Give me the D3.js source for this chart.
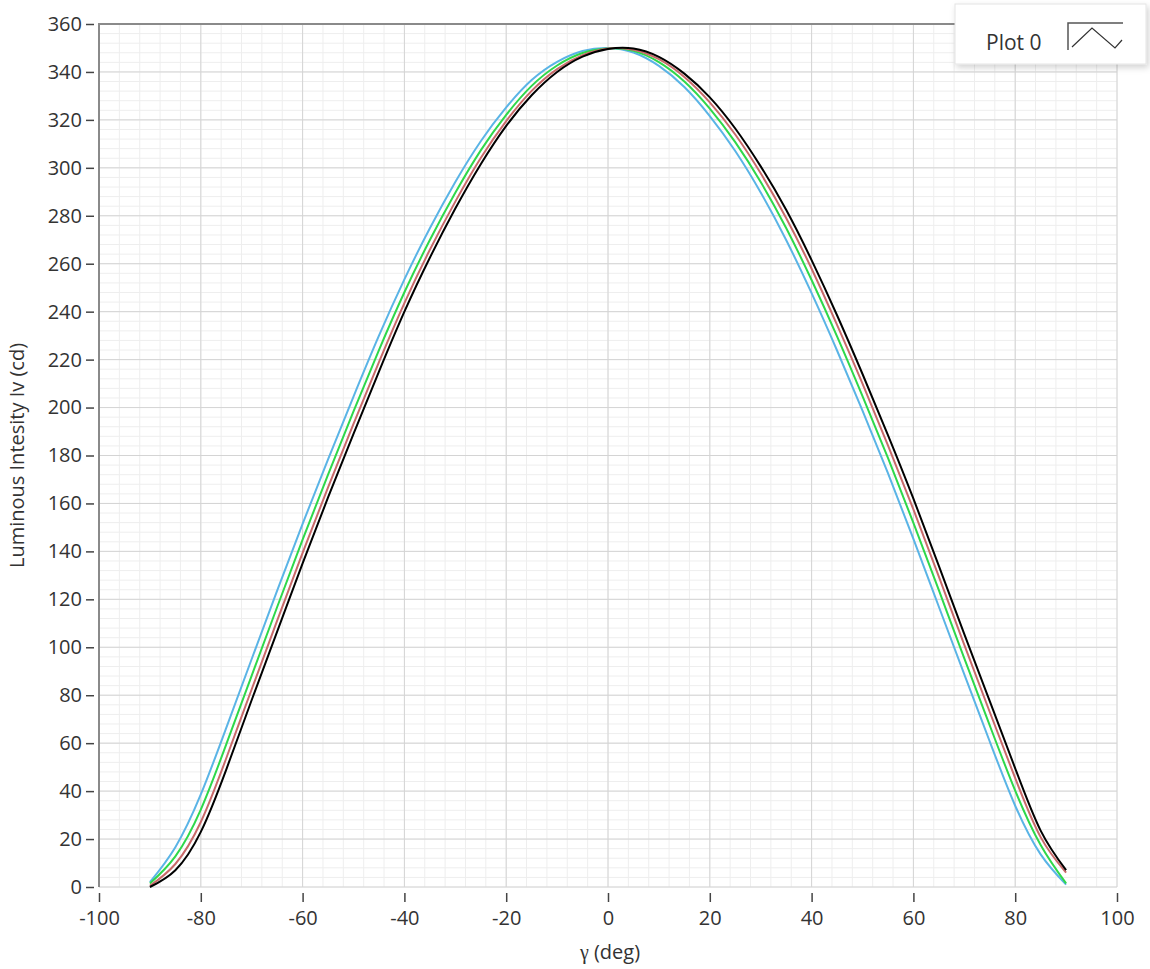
<!DOCTYPE html>
<html>
<head>
<meta charset="utf-8">
<script src="https://cdn.jsdelivr.net/npm/d3@7"></script>
<style>
  html, body { margin: 0; padding: 0; background: #fff; }
  svg text { font-family: "Segoe UI", "Open Sans", "Noto Sans", sans-serif; fill: #333; }
</style>
</head>
<body>
<div id="app"></div>
<script>
// angles in degrees
const gamma = [-90, -85, -80, -75, -70, -65, -60, -55, -50, -45, -40, -35, -30, -25, -20, -15, -10, -5, 0,
               5, 10, 15, 20, 25, 30, 35, 40, 45, 50, 55, 60, 65, 70, 75, 80, 85, 90];

// luminous intensity (cd) for each measured run
const blueRun  = [2, 16.6, 38.6, 66.4, 95.1, 123.6, 151.5, 178.4, 204.6, 230, 253.5, 274.8, 294.1, 311.1, 325.2, 336.6, 344.2, 348.7, 350,
                  348.1, 342.5, 333.7, 321.6, 307, 289.7, 269.9, 247.7, 223.8, 198.7, 172.6, 145.2, 116.9, 88.7, 60.7, 33.9, 13.6, 1];
const greenRun = [1.5, 12.8, 32.3, 59.5, 88.2, 116.8, 144.9, 172, 198.4, 224, 248.1, 269.9, 289.6, 307.3, 322.1, 334.2, 342.7, 347.9, 349.8,
                  348.8, 344.1, 336, 324.7, 310.7, 294.1, 274.9, 253.2, 229.7, 204.8, 179, 151.9, 123.8, 95.4, 67.4, 40.2, 17.5, 1.5];
const redRun   = [0.5, 9.6, 27.1, 53.7, 82.5, 111.1, 139.4, 166.7, 193.2, 219, 243.6, 265.8, 285.9, 304.1, 319.5, 332.1, 341.2, 347, 349.8,
                  349.3, 345.3, 337.9, 327.3, 313.9, 297.7, 279.1, 257.9, 234.5, 210, 184.2, 157.5, 129.5, 101, 73, 45.4, 20.8, 6];
const blackRun = [0, 7, 23, 49, 78, 106.5, 135, 162.5, 189, 215, 240, 262.5, 283, 301.5, 317.5, 330.3, 340, 346.4, 349.6,
                  349.8, 346.3, 339.3, 329.4, 316.4, 300.6, 282.5, 261.5, 238.5, 214, 188.5, 162, 134, 105.5, 77.5, 49.5, 23.5, 7];

const xTicks = [-100, -80, -60, -40, -20, 0, 20, 40, 60, 80, 100];
const yTicks = [0, 20, 40, 60, 80, 100, 120, 140, 160, 180, 200, 220, 240, 260, 280, 300, 320, 340, 360];

const runs = [
  {name: 'blue',  values: blueRun,  color: '#5ab4e6'},
  {name: 'green', values: greenRun, color: '#2ed84a'},
  {name: 'red',   values: redRun,   color: '#c96a6a'},
  {name: 'black', values: blackRun, color: '#000000'}
];

const W = 1150, H = 969;
const plot = {left: 99, right: 1117, top: 24, bottom: 887};

const svg = d3.select('#app').append('svg')
    .attr('width', W)
    .attr('height', H);

const x = d3.scaleLinear().domain([-100, 100]).range([plot.left, plot.right]);
const y = d3.scaleLinear().domain([0, 360]).range([plot.bottom, plot.top]);

// minor grid (5 subdivisions per major step)
const xMinor = d3.range(-100, 100.1, 4);
const yMinor = d3.range(0, 360.1, 4);
const grid = svg.append('g');
grid.selectAll('.vmin').data(xMinor).join('line')
    .attr('x1', d => x(d)).attr('x2', d => x(d))
    .attr('y1', plot.top).attr('y2', plot.bottom)
    .attr('stroke', '#eeeeee').attr('stroke-width', 1);
grid.selectAll('.hmin').data(yMinor).join('line')
    .attr('x1', plot.left).attr('x2', plot.right)
    .attr('y1', d => y(d)).attr('y2', d => y(d))
    .attr('stroke', '#eeeeee').attr('stroke-width', 1);
// major grid
grid.append('g').selectAll('line').data(xTicks).join('line')
    .attr('x1', d => x(d)).attr('x2', d => x(d))
    .attr('y1', plot.top).attr('y2', plot.bottom)
    .attr('stroke', '#d4d4d4').attr('stroke-width', 1);
grid.append('g').selectAll('line').data(yTicks).join('line')
    .attr('x1', plot.left).attr('x2', plot.right)
    .attr('y1', d => y(d)).attr('y2', d => y(d))
    .attr('stroke', '#d4d4d4').attr('stroke-width', 1);

// plot frame: left and top edges
svg.append('path')
    .attr('d', `M${plot.left},${plot.bottom}V${plot.top}H${plot.right}`)
    .attr('fill', 'none')
    .attr('stroke', '#8a8a8a')
    .attr('stroke-width', 2);

// curves
const line = d3.line()
    .x((d, i) => x(gamma[i]))
    .y(d => y(d))
    .curve(d3.curveNatural);

svg.append('g').selectAll('path').data(runs).join('path')
    .attr('fill', 'none')
    .attr('stroke', d => d.color)
    .attr('stroke-width', 2)
    .attr('d', d => line(d.values));

// axes
const yAxis = svg.append('g')
    .attr('transform', `translate(${plot.left - 5},0)`)
    .call(d3.axisLeft(y).tickValues(yTicks).tickSize(8).tickPadding(4).tickFormat(d => String(d)));
const xAxis = svg.append('g')
    .attr('transform', `translate(0,${plot.bottom + 6})`)
    .call(d3.axisBottom(x).tickValues(xTicks).tickSize(9).tickPadding(9).tickFormat(d => String(d)));
[yAxis, xAxis].forEach(a => {
  a.select('.domain').remove();
  a.selectAll('.tick line').attr('stroke', '#444').attr('stroke-width', 1.5);
  a.selectAll('.tick text').style('font-size', '20px').attr('fill', '#333');
});

// axis titles
const xTitle = svg.append('text')
    .attr('x', x(0) + 2)
    .attr('y', 959)
    .attr('text-anchor', 'middle')
    .style('font-size', '20px');
xTitle.append('tspan').style('font-family', '"Liberation Serif", "DejaVu Serif", serif').text('γ');
xTitle.append('tspan').text(' (deg)');

svg.append('text')
    .attr('transform', `translate(24,${(plot.top + plot.bottom) / 2}) rotate(-90)`)
    .attr('text-anchor', 'middle')
    .style('font-size', '20px')
    .text('Luminous Intesity Iv (cd)');

// legend
const defs = svg.append('defs');
const shadow = defs.append('filter').attr('id', 'shadow')
    .attr('x', '-10%').attr('y', '-20%').attr('width', '130%').attr('height', '160%');
shadow.append('feDropShadow')
    .attr('dx', 2).attr('dy', 3).attr('stdDeviation', 3)
    .attr('flood-color', '#000').attr('flood-opacity', 0.18);

const legend = svg.append('g').attr('transform', 'translate(955,4)');
legend.append('rect')
    .attr('width', 191).attr('height', 60)
    .attr('fill', '#fff')
    .attr('stroke', '#e4e4e4')
    .attr('filter', 'url(#shadow)');
legend.append('text')
    .attr('x', 31).attr('y', 46)
    .style('font-size', '21px')
    .text('Plot 0');
legend.append('path')
    .attr('d', 'M113,46V19H168')
    .attr('fill', 'none').attr('stroke', '#555').attr('stroke-width', 1.5);
legend.append('path')
    .attr('d', 'M117,43L137,24L160,44L167,36')
    .attr('fill', 'none').attr('stroke', '#333').attr('stroke-width', 1.2);
</script>
</body>
</html>
